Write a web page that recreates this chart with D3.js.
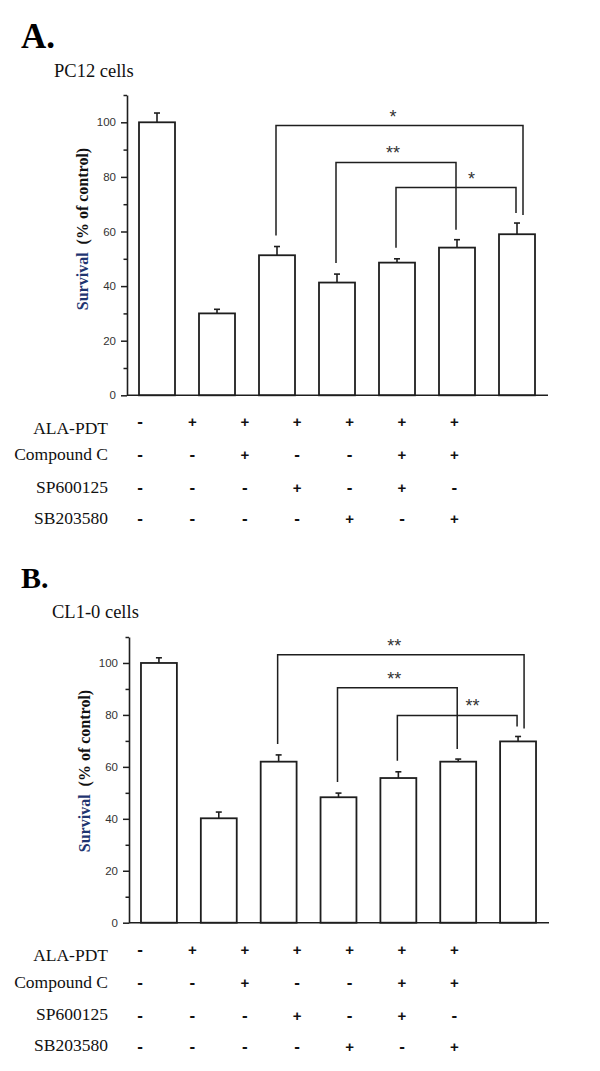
<!DOCTYPE html>
<html>
<head>
<meta charset="utf-8">
<script src="https://cdn.jsdelivr.net/npm/d3@7"></script>
<style>
  body { margin: 0; background: #fff; }
  svg { display: block; }
</style>
</head>
<body>
<svg width="600" height="1071"></svg>
<script>
// groups (x categories) and treatment table
const groups = ["g1", "g2", "g3", "g4", "g5", "g6", "g7"];
const conditions = ["ALA-PDT", "Compound C", "SP600125", "SB203580"];
const signs = [
  ["-", "+", "+", "+", "+", "+", "+"],
  ["-", "-", "+", "-", "-", "+", "+"],
  ["-", "-", "-", "+", "-", "+", "-"],
  ["-", "-", "-", "-", "+", "-", "+"]
];

// survival values (% of control) and SE
const pc12Survival = [100, 30.0, 51.3, 41.3, 48.6, 54.1, 59.0];
const pc12Error    = [3.4, 1.5, 3.2, 3.1, 1.4, 2.9, 4.1];
const cl10Survival = [100, 40.2, 62.0, 48.3, 55.7, 62.0, 69.8];
const cl10Error    = [2.0, 2.4, 2.6, 1.6, 2.4, 1.0, 1.9];

// significance brackets: from group, to group, bracket height (data units), label
const pc12Brackets = [
  { from: 2, to: 6, top: 98.8, label: "*" },
  { from: 3, to: 5, top: 85.3, label: "**" },
  { from: 4, to: 6, top: 76.1, label: "*" }
];
const cl10Brackets = [
  { from: 2, to: 6, top: 103.2, label: "**" },
  { from: 3, to: 5, top: 90.5, label: "**" },
  { from: 4, to: 6, top: 79.8, label: "**" }
];

const majorTicks = [0, 20, 40, 60, 80, 100];
const minorTicks = [10, 30, 50, 70, 90, 110];

const svg = d3.select("svg");
const ink = "#1e1e1e";

function drawPanel(opt) {
  const g = svg.append("g");

  //Panel letter and cell name
  g.append("text")
    .attr("x", 21).attr("y", opt.letterY)
    .style("font-family", "'Liberation Serif', 'Times New Roman', serif")
    .style("font-weight", "bold")
    .style("font-size", opt.letterSize + "px")
    .attr("fill", "#000")
    .text(opt.letter);
  g.append("text")
    .attr("x", opt.nameX).attr("y", opt.nameY)
    .style("font-family", "'Liberation Serif', 'Times New Roman', serif")
    .style("font-size", "18.5px")
    .attr("fill", "#111")
    .text(opt.name);

  //Scales
  const x = d3.scaleBand()
    .domain(groups)
    .range([opt.left, opt.right])
    .paddingInner(0.4)
    .paddingOuter(0.2);
  const y = d3.scaleLinear()
    .domain([0, 110])
    .range([opt.bottom, opt.top]);

  //Bars
  g.append("g")
    .selectAll("rect")
    .data(opt.values)
    .join("rect")
      .attr("x", (d, i) => x(groups[i]))
      .attr("y", d => y(d))
      .attr("width", x.bandwidth())
      .attr("height", d => y(0) - y(d))
      .attr("fill", "#fff")
      .attr("stroke", ink)
      .attr("stroke-width", 1.8);

  //Error bars (upper only)
  const eb = g.append("g")
    .attr("stroke", ink)
    .attr("stroke-width", 1.6)
    .selectAll("g")
    .data(opt.values.map((v, i) => ({ v, e: opt.errors[i], c: x(groups[i]) + x.bandwidth() / 2 })))
    .join("g");
  eb.append("line")
    .attr("x1", d => d.c).attr("x2", d => d.c)
    .attr("y1", d => y(d.v)).attr("y2", d => y(d.v + d.e));
  eb.append("line")
    .attr("x1", d => d.c - 3).attr("x2", d => d.c + 3)
    .attr("y1", d => y(d.v + d.e)).attr("y2", d => y(d.v + d.e));

  //X axis baseline
  g.append("line")
    .attr("x1", opt.left).attr("x2", opt.right + 1)
    .attr("y1", y(0)).attr("y2", y(0))
    .attr("stroke", ink).attr("stroke-width", 1.6);

  //Y axis: minor then major ticks
  g.append("g")
    .attr("transform", `translate(${opt.left},0)`)
    .call(d3.axisLeft(y).tickValues(minorTicks).tickSize(3.5).tickFormat(""))
    .call(a => a.select(".domain").remove())
    .call(a => a.selectAll("line").attr("stroke", ink).attr("stroke-width", 1.5));
  g.append("g")
    .attr("transform", `translate(${opt.left},0)`)
    .call(d3.axisLeft(y).tickValues(majorTicks).tickSize(6).tickPadding(5).tickSizeOuter(0))
    .call(a => a.select(".domain").attr("stroke", ink).attr("stroke-width", 1.6))
    .call(a => a.selectAll("line").attr("stroke", ink).attr("stroke-width", 1.5))
    .call(a => a.selectAll("text")
      .attr("fill", "#333")
      .style("font-family", "'Liberation Sans', Arial, sans-serif")
      .style("font-size", "11.5px"));

  //Y axis title
  const title = g.append("text")
    .attr("transform", `translate(${opt.titleX},${opt.titleY}) rotate(-90)`)
    .attr("text-anchor", "middle")
    .style("font-family", "'Liberation Serif', 'Times New Roman', serif")
    .style("font-weight", "bold")
    .style("font-size", "16px");
  title.append("tspan").attr("fill", "#1f3570").text("Survival");
  title.append("tspan").attr("fill", "#111").text("\u00a0\u00a0(% of control)");

  //Significance brackets
  const bg = g.append("g")
    .selectAll("g")
    .data(opt.brackets)
    .join("g");
  const cx = i => x(groups[i]) + x.bandwidth() / 2;
  bg.append("path")
    .attr("fill", "none")
    .attr("stroke", ink)
    .attr("stroke-width", 1.5)
    .attr("d", (d, k) => {
      const x1 = cx(d.from) - 1;
      const x2 = cx(d.to) + (k === 0 ? 6 : -1); //outer bracket leg moved aside
      const yTop = y(d.top);
      const y1 = y(opt.values[d.from] + opt.errors[d.from]) - 11;
      const y2 = y(opt.values[d.to] + opt.errors[d.to]) - (k === 0 ? 8 : 10);
      return `M${x1},${y1}V${yTop}H${x2}V${y2}`;
    });
  bg.append("text")
    .attr("x", (d, k) => {
      const a = cx(d.from), b = cx(d.to);
      return k === 2 ? a + (b - a) * 0.62 : (a + b) / 2 - 4;
    })
    .attr("y", d => y(d.top) - 3)
    .attr("text-anchor", "middle")
    .attr("fill", "#333")
    .style("font-family", "'Liberation Sans', Arial, sans-serif")
    .style("font-size", "18px")
    .text(d => d.label);

  //Treatment table
  const col = d3.scalePoint()
    .domain(groups)
    .range([140, 454.4]);
  const labelRows = [38.5, 65, 97.5, 128.5];
  const signRows = [27, 60, 93, 124];
  g.append("g")
    .selectAll("text")
    .data(conditions)
    .join("text")
      .attr("x", 108)
      .attr("y", (d, i) => y(0) + labelRows[i])
      .attr("text-anchor", "end")
      .attr("fill", "#111")
      .style("font-family", "'Liberation Serif', 'Times New Roman', serif")
      .style("font-size", "17.5px")
      .text(d => d);
  const rows = g.append("g")
    .selectAll("g")
    .data(signs)
    .join("g")
      .attr("transform", (d, i) => `translate(0,${y(0) + signRows[i]})`);
  rows.selectAll("text")
    .data(d => d)
    .join("text")
      .attr("x", (d, i) => col(groups[i]))
      .attr("y", 5)
      .attr("text-anchor", "middle")
      .attr("fill", "#111")
      .style("font-family", "'Liberation Sans', Arial, sans-serif")
      .style("font-weight", "bold")
      .style("font-size", d => d === "+" ? "15px" : "17px")
      .text(d => d);
}

drawPanel({
  letter: "A.", letterY: 48, letterSize: 35,
  name: "PC12 cells", nameX: 54, nameY: 77,
  values: pc12Survival, errors: pc12Error, brackets: pc12Brackets,
  left: 127, right: 547, top: 95, bottom: 395.3,
  titleX: 88, titleY: 229
});

drawPanel({
  letter: "B.", letterY: 588, letterSize: 30,
  name: "CL1-0 cells", nameX: 52, nameY: 618,
  values: cl10Survival, errors: cl10Error, brackets: cl10Brackets,
  left: 129, right: 548, top: 637, bottom: 922.7,
  titleX: 90, titleY: 771
});
</script>
</body>
</html>
